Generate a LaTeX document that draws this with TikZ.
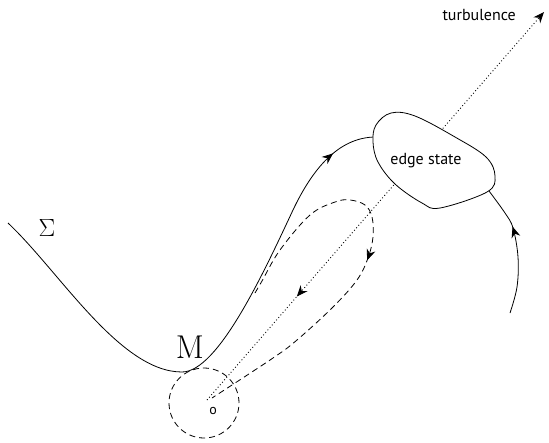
\documentclass[tikz,border=0pt]{standalone}
\usepackage{fontspec}
\newfontfamily\labelfont{PT Sans}
\usetikzlibrary{arrows.meta,decorations.markings}

\tikzset{
  curve/.style={line width=0.8pt, black},
  dashedcurve/.style={line width=0.8pt, black, dash pattern=on 6pt off 4pt},
  dottedline/.style={line width=0.9pt, black, dash pattern=on 0.9pt off 2.4pt},
  tip/.tip={Stealth[length=11pt,width=9pt]},
  arrowat/.style={postaction={decorate},
    decoration={markings, mark=at position #1 with {\arrow{tip}}}},
  revarrowat/.style={postaction={decorate},
    decoration={markings, mark=at position #1 with {\arrow{tip[reversed]}}}},
  sanslabel/.style={font=\labelfont\fontsize{16}{18}\selectfont, inner sep=0pt},
  biglabel/.style={font=\fontsize{33}{36}\selectfont, inner sep=0pt},
}

\begin{document}
\begin{tikzpicture}[x=1pt, y=-1pt]
  \useasboundingbox (0,0) rectangle (549,442);

  % key points
  \coordinate (O) at (207,400);
  \coordinate (T) at (544,12);
  \coordinate (S0) at (8,223);
  \coordinate (S1) at (182,372);
  \coordinate (S2) at (293,210);
  \coordinate (S3) at (376,137);

  % dotted ray from the origin towards turbulence
  \draw[dottedline, -{Stealth[length=11pt,width=9pt]}, revarrowat=148pt] (O) -- (T);

  % neighbourhood of the origin
  \node[draw, circle, dashedcurve, minimum size=70pt, inner sep=0pt] (ball) at (204,403) {};
  \node[sanslabel, font=\labelfont\fontsize{14}{16}\selectfont] (olab) at (213,411) {o};

  % the manifold Sigma through M
  \draw[curve, arrowat=0.915] (S0)
    .. controls (60,272) and (120,372) .. (S1)
    .. controls (218,372) and (264,272) .. (S2)
    .. controls (312,170) and (338,137) .. (S3);

  % trajectory coming from the right side
  \draw[curve, arrowat=88pt] plot[smooth, tension=0.6] coordinates {
    (510,313) (517,287) (518,257) (513,228) (505,213) (489,191)};

  % dashed excursion returning to the origin
  \draw[dashedcurve, arrowat=214pt] plot[smooth, tension=0.6] coordinates {
    (255,293) (262,281) (280,250) (310,215) (335,202) (350,200) (365,205)
    (372,217) (373,237) (368,258) (357,280) (333,307) (297,340)
    (273,358) (212,398)};

  % edge state region
  \draw[curve, fill=white] plot[smooth cycle, tension=0.6] coordinates {
    (376,125) (391,113) (415,116) (455,137) (486,157) (495,176)
    (487,192) (440,208) (422,203) (395,184) (378,162) (373,142)};
  \node[sanslabel] (edge) at (426,161) {edge state};

  % labels
  \node[sanslabel, anchor=east] (turb) at (516,15) {turbulence};
  \node[biglabel] (sigma) at (47,228) {$\Sigma$};
  \node[biglabel] (mlab) at (190,347) {M};
\end{tikzpicture}
\end{document}
